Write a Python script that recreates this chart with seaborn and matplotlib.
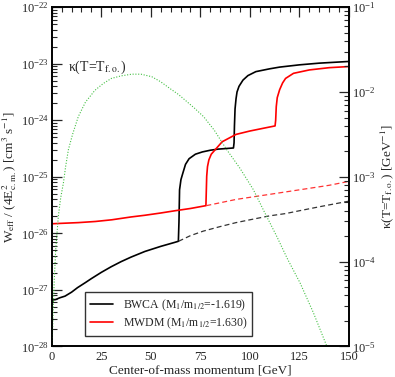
import numpy as np
import pandas as pd
import matplotlib
matplotlib.use("Agg")
import matplotlib.pyplot as plt
import seaborn as sns
from matplotlib.ticker import LogLocator, MultipleLocator, NullFormatter

# ---- data (log10 values) ----
bwca_x = [0, 2, 4, 6.7, 10, 13, 17, 20, 25, 30, 35, 40, 47, 55, 62, 63.9, 64.2, 64.5, 65.2, 66.2, 67.5, 69.3, 72.5, 76, 80, 84, 88, 91.7,
          92.0, 92.2, 92.5, 93.0, 93.5, 94.5, 96.5, 99, 103, 110, 115, 125, 135, 150]
bwca_logy = [-27.18, -27.17, -27.14, -27.11, -27.04, -26.96, -26.87, -26.8, -26.69, -26.59, -26.5, -26.42, -26.32, -26.23, -26.16, -26.14, -25.8, -25.23, -25.05, -24.93, -24.78, -24.68, -24.6, -24.56, -24.53, -24.51, -24.5, -24.49,
             -24.4, -24.1, -23.8, -23.62, -23.5, -23.4, -23.29, -23.21, -23.14, -23.09, -23.06, -23.02, -22.99, -22.96]
bwca_dash_x = [64, 70, 76.5, 85, 93, 100, 110, 118, 125, 135, 150]
bwca_dash_logy = [-26.14, -26.04, -25.96, -25.88, -25.81, -25.76, -25.69, -25.65, -25.6, -25.53, -25.43]

mwdm_x = [0, 13.4, 22, 30.3, 40, 47, 55, 62.2, 70, 77.8, 78.0, 78.2, 78.6, 79.3, 80.5, 82.5, 86, 93, 100, 107, 112.7,
          113.0, 113.3, 113.8, 115, 116.5, 118, 122, 130, 140, 150]
mwdm_logy = [-25.83, -25.81, -25.79, -25.76, -25.71, -25.68, -25.64, -25.6, -25.56, -25.51, -25.25, -24.99, -24.82, -24.7, -24.6, -24.52, -24.38, -24.25, -24.19, -24.14, -24.1,
             -24.0, -23.76, -23.6, -23.46, -23.34, -23.26, -23.17, -23.11, -23.07, -23.05]
mwdm_dash_x = [78, 93, 110, 125, 140, 150]
mwdm_dash_logy = [-25.51, -25.4, -25.31, -25.23, -25.15, -25.08]

kappa_x = [0.2, 0.5, 0.8, 1.3, 2.0, 3.3, 4.5, 5.9, 7, 8.4, 10.5, 13.4, 17, 21.8, 26, 30.1, 35, 40.4, 45, 50.5, 55, 59.7,
           64, 68, 72, 76.6, 82, 88.3, 95, 101.7, 107, 113.5, 119, 125.3, 132, 138.7]
kappa_logy = [-5.0, -4.75, -4.52, -4.2, -3.86, -3.47, -3.25, -3.07, -2.88, -2.68, -2.5, -2.29, -2.12, -1.98, -1.9, -1.84, -1.81, -1.79, -1.79, -1.82, -1.88, -1.96,
              -2.03, -2.11, -2.19, -2.29, -2.45, -2.68, -2.9, -3.15, -3.4, -3.7, -3.97, -4.25, -4.6, -4.99]

legend_labels = [r"BWCA (M$_1$/m$_{1/2}$=-1.619)", r"MWDM (M$_1$/m$_{1/2}$=1.630)"]

# ---- style ----
sns.set_style("white")
plt.rcParams["font.family"] = ["Liberation Serif", "DejaVu Serif"]
plt.rcParams["mathtext.fontset"] = "stix"
plt.rcParams["font.size"] = 9

fig = plt.figure(figsize=(3.95, 3.77), dpi=100)
ax = fig.add_axes([0.131, 0.081, 0.7525, 0.9])
ax2 = ax.twinx()

def df(x, ly):
    return pd.DataFrame({"x": x, "y": 10 ** np.asarray(ly)})

lw = 1.2
sns.lineplot(data=df(bwca_x, bwca_logy), x="x", y="y", ax=ax, color="black", lw=lw, sort=False, estimator=None, label=legend_labels[0])
sns.lineplot(data=df(mwdm_x, mwdm_logy), x="x", y="y", ax=ax, color="#ff0000", lw=lw, sort=False, estimator=None, label=legend_labels[1])
sns.lineplot(data=df(bwca_dash_x, bwca_dash_logy), x="x", y="y", ax=ax, color="#333333", lw=0.9, linestyle=(0, (4, 2.5)), sort=False, estimator=None)
sns.lineplot(data=df(mwdm_dash_x, mwdm_dash_logy), x="x", y="y", ax=ax, color="#ff3333", lw=0.9, linestyle=(0, (4, 2.5)), sort=False, estimator=None)
sns.lineplot(data=df(kappa_x, kappa_logy), x="x", y="y", ax=ax2, color="#44c044", lw=0.8, linestyle=(0, (1, 1.5)), sort=False, estimator=None)

ax.set_yscale("log")
ax2.set_yscale("log")
ax.set_xlim(0, 150)
ax.set_ylim(1e-28, 1e-22)
ax2.set_ylim(1e-5, 1e-1)

ax.xaxis.set_major_locator(MultipleLocator(25))
ax.xaxis.set_minor_locator(MultipleLocator(5))
ax.yaxis.set_major_locator(LogLocator(base=10, numticks=20))
ax.yaxis.set_minor_locator(LogLocator(base=10, subs=np.arange(2, 10), numticks=20))
ax.yaxis.set_minor_formatter(NullFormatter())
ax2.yaxis.set_major_locator(LogLocator(base=10, numticks=20))
ax2.yaxis.set_minor_locator(LogLocator(base=10, subs=np.arange(2, 10), numticks=20))
ax2.yaxis.set_minor_formatter(NullFormatter())

for a in (ax, ax2):
    a.tick_params(which="major", direction="in", length=7, width=0.9, labelsize=9, pad=2)
    a.tick_params(which="minor", direction="in", length=3.5, width=0.8)
    for s in a.spines.values():
        s.set_linewidth(1.2)
        s.set_color("black")
ax.tick_params(which="both", top=True, right=False, left=True)
ax2.tick_params(which="both", right=True, left=False)
ax.tick_params(axis="x", pad=3)

ax.set_xlabel("Center-of-mass momentum [GeV]", fontsize=9.5, labelpad=1)
ax.set_ylabel(r"W$_{\rm eff}$ / (4E$^2_{\rm c.m.}$) [cm$^3$ s$^{-1}$]", fontsize=9.5, labelpad=1)
ax2.set_ylabel(r"κ(T=T$_{\rm f.o.}$) [GeV$^{-1}$]", fontsize=9.5, labelpad=2)

ax.text(8, 7.5e-24, r"κ(T=T$_{\rm f.o.}$)", fontsize=10, ha="left", va="baseline")

leg = ax.legend(loc="lower left", bbox_to_anchor=(0.112, 0.032), fontsize=8.5, frameon=True, fancybox=False,
                edgecolor="#333333", framealpha=1, handlelength=2.0, borderpad=0.4, labelspacing=0.25,
                handletextpad=0.8, borderaxespad=0)
leg.get_frame().set_linewidth(1.0)
if ax2.get_legend():
    ax2.get_legend().remove()

fig.savefig("out.png", dpi=100)
